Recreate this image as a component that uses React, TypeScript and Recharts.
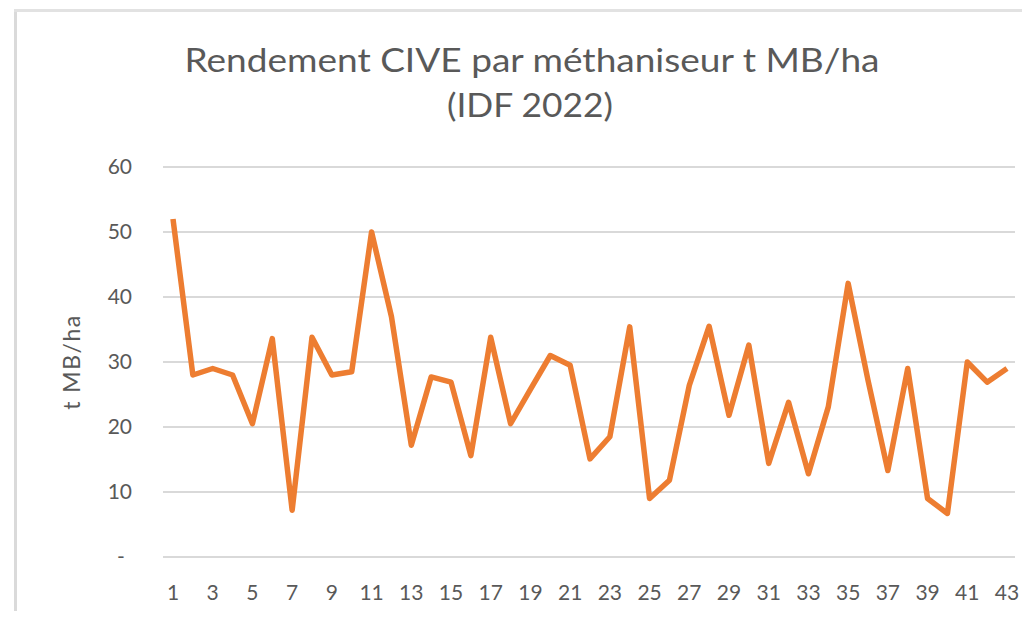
import React from "react";
import { LineChart, Line, XAxis, YAxis, CartesianGrid, Label } from "recharts";

const categories: string[] = [
  "1", "2", "3", "4", "5", "6", "7", "8", "9", "10",
  "11", "12", "13", "14", "15", "16", "17", "18", "19", "20",
  "21", "22", "23", "24", "25", "26", "27", "28", "29", "30",
  "31", "32", "33", "34", "35", "36", "37", "38", "39", "40",
  "41", "42", "43",
];

const rendement: number[] = [
  52, 28, 29, 28, 20.5, 33.6, 7.2, 33.8, 28, 28.5,
  50, 37, 17.2, 27.7, 26.9, 15.6, 33.8, 20.5, 25.8, 31,
  29.5, 15.1, 18.5, 35.4, 9, 11.8, 26.4, 35.5, 21.8, 32.6,
  14.4, 23.8, 12.8, 23.1, 42.1, 27.2, 13.3, 29, 9, 6.7,
  30, 26.9, 29,
];

const yTicks: number[] = [0, 10, 20, 30, 40, 50, 60];

const titleLines: string[] = ["Rendement CIVE par méthaniseur t MB/ha", "(IDF 2022)"];
const yLabel = "t MB/ha";

const data = categories.map((c, i) => ({ cat: c, value: rendement[i] }));

const TEXT = "#595959";
const FONT = "Lato, 'Noto Sans', sans-serif";

const YTick = (props: any) => {
  const { x, y, payload } = props;
  const v = payload.value;
  const isZero = v === 0;
  return (
    <text
      x={isZero ? x - 11 : x}
      y={y}
      dy="0.355em"
      textAnchor={isZero ? "middle" : "end"}
      fill={TEXT}
      fontSize={21}
      fontFamily={FONT}
    >
      {isZero ? "-" : String(v)}
    </text>
  );
};

export default function App() {
  return (
    <div
      style={{
        position: "relative",
        width: 1030,
        height: 619,
        margin: -8,
        overflow: "hidden",
        background: "#ffffff",
        fontFamily: FONT,
      }}
    >
      <div style={{ position: "absolute", left: 14, top: 9, width: 3, height: 620, background: "#dadada" }} />
      <div style={{ position: "absolute", left: 14, top: 9, width: 1030, height: 3, background: "#e2e2e2" }} />
      <div style={{ position: "absolute", left: 0, top: 0 }}>
        <LineChart
          width={1030}
          height={619}
          data={data}
          margin={{ top: 167, right: 15, bottom: 32, left: 50 }}
        >
          <CartesianGrid vertical={false} stroke="#d9d9d9" strokeWidth={2} />
          <XAxis
            dataKey="cat"
            interval={1}
            axisLine={false}
            tickLine={false}
            padding={{ left: 10, right: 8 }}
            height={30}
            tickMargin={22}
            tick={{ fill: TEXT, fontSize: 21, fontFamily: FONT }}
          />
          <YAxis
            domain={[0, 60]}
            ticks={yTicks}
            axisLine={false}
            tickLine={false}
            width={113}
            tickMargin={25}
            tick={<YTick />}
          >
            <Label
              value={yLabel}
              angle={-90}
              position="insideLeft"
              offset={22}
              style={{ textAnchor: "middle", fill: TEXT, fontSize: 23, fontFamily: FONT, letterSpacing: 1.5 }}
            />
          </YAxis>
          <Line
            type="linear"
            dataKey="value"
            stroke="#ED7D31"
            strokeWidth={5.5}
            strokeLinejoin="round"
            dot={false}
            activeDot={false}
            isAnimationActive={false}
          />
        </LineChart>
      </div>
      <svg
        width={1030}
        height={619}
        style={{ position: "absolute", left: 0, top: 0, pointerEvents: "none" }}
      >
        <polygon points="0,260 7.5,260.5 0,271" fill="#ED7D31" />
        <text
          x={532}
          y={72}
          textAnchor="middle"
          fill={TEXT}
          fontSize={32}
          fontFamily={FONT}
          textLength={695}
          lengthAdjust="spacingAndGlyphs"
        >
          {titleLines[0]}
        </text>
        <text
          x={530}
          y={117}
          textAnchor="middle"
          fill={TEXT}
          fontSize={32}
          fontFamily={FONT}
          textLength={166}
          lengthAdjust="spacingAndGlyphs"
        >
          {titleLines[1]}
        </text>
      </svg>
    </div>
  );
}
